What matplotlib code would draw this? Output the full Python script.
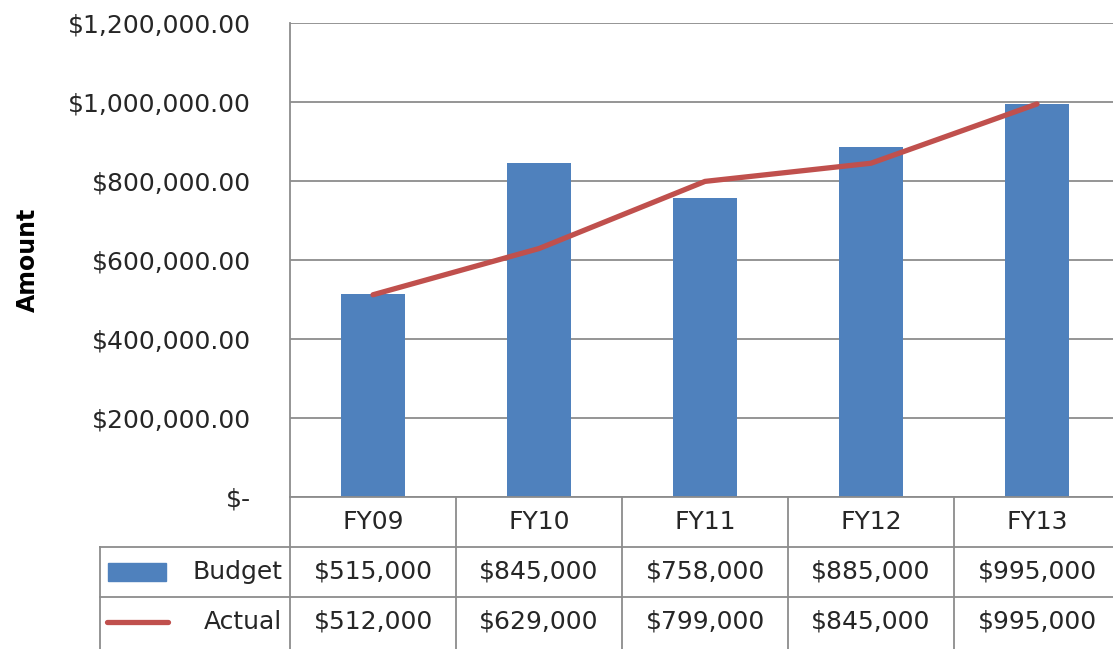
import matplotlib.pyplot as plt
import matplotlib.transforms as mtransforms
from matplotlib.patches import Rectangle
from matplotlib.lines import Line2D

# chart data
years = ['FY09', 'FY10', 'FY11', 'FY12', 'FY13']
budget = [515000, 845000, 758000, 885000, 995000]
actual = [512000, 629000, 799000, 845000, 995000]
yticks = [0, 200000, 400000, 600000, 800000, 1000000, 1200000]

blue = '#4F81BD'
red = '#C0504D'
grid = '#8C8C8C'
txt = '#262626'
fs = 18
plt.rcParams['font.family'] = ['DejaVu Sans']

W, H = 1113, 649
fig = plt.figure(figsize=(W / 100, H / 100), dpi=100)
# plot area in pixels: left 290, right 1120, top 23, bottom 497
ax = fig.add_axes([290 / W, 1 - 497 / H, 830 / W, 474 / H])

x = list(range(len(years)))
ax.bar(x, budget, width=0.39, color=blue, zorder=2)
ax.plot(x, actual, color=red, lw=3.8, solid_capstyle='round', zorder=3)

ax.set_xlim(-0.5, len(years) - 0.5)
ax.set_ylim(0, 1200000)
ax.set_yticks(yticks)
ax.set_yticklabels(['$-' if v == 0 else '${:,.2f}'.format(v) for v in yticks])
ax.tick_params(axis='y', length=0, pad=28, labelsize=fs, colors=txt)
ax.set_xticks([])
for v in yticks:
    ax.axhline(v, color=grid, lw=1.3, zorder=1)
for s in ['top', 'right']:
    ax.spines[s].set_visible(False)
ax.spines['left'].set_color(grid)
ax.spines['left'].set_linewidth(1.3)
ax.spines['bottom'].set_color(grid)
ax.spines['bottom'].set_linewidth(1.3)
ax.set_ylabel('Amount', fontsize=17, fontweight='bold', color='black', labelpad=20)

# data table below the plot: x in data units, y in axes units
tr = mtransforms.blended_transform_factory(ax.transData, ax.transAxes)
rh = 50 / 474
left = -0.5 - 190 / 166
n = len(years)
kw = dict(transform=tr, color=grid, lw=1.3, clip_on=False)
ax.add_line(Line2D([left, n - 0.5], [-rh, -rh], **kw))
ax.add_line(Line2D([left, n - 0.5], [-2 * rh, -2 * rh], **kw))
ax.add_line(Line2D([left, left], [-rh, -3.2 * rh], **kw))
for i in range(n + 1):
    ax.add_line(Line2D([i - 0.5, i - 0.5], [0, -3.2 * rh], **kw))

tk = dict(transform=tr, fontsize=fs, color=txt, ha='center', va='center', clip_on=False)
for i, yr in enumerate(years):
    ax.text(i, -0.5 * rh, yr, **tk)
    ax.text(i, -1.5 * rh, '${:,}'.format(budget[i]), **tk)
    ax.text(i, -2.5 * rh, '${:,}'.format(actual[i]), **tk)

# legend keys inside the table
ax.add_patch(Rectangle((left + 0.05, -1.5 * rh - 0.019), 0.35, 0.038,
                       transform=tr, color=blue, clip_on=False))
ax.add_line(Line2D([left + 0.04, left + 0.41], [-2.5 * rh, -2.5 * rh], transform=tr,
                   color=red, lw=3.8, solid_capstyle='round', clip_on=False))
ax.text(-0.545, -1.5 * rh, 'Budget', transform=tr, fontsize=fs, color=txt,
        ha='right', va='center', clip_on=False)
ax.text(-0.545, -2.5 * rh, 'Actual', transform=tr, fontsize=fs, color=txt,
        ha='right', va='center', clip_on=False)

fig.savefig('out.png', dpi=100)
